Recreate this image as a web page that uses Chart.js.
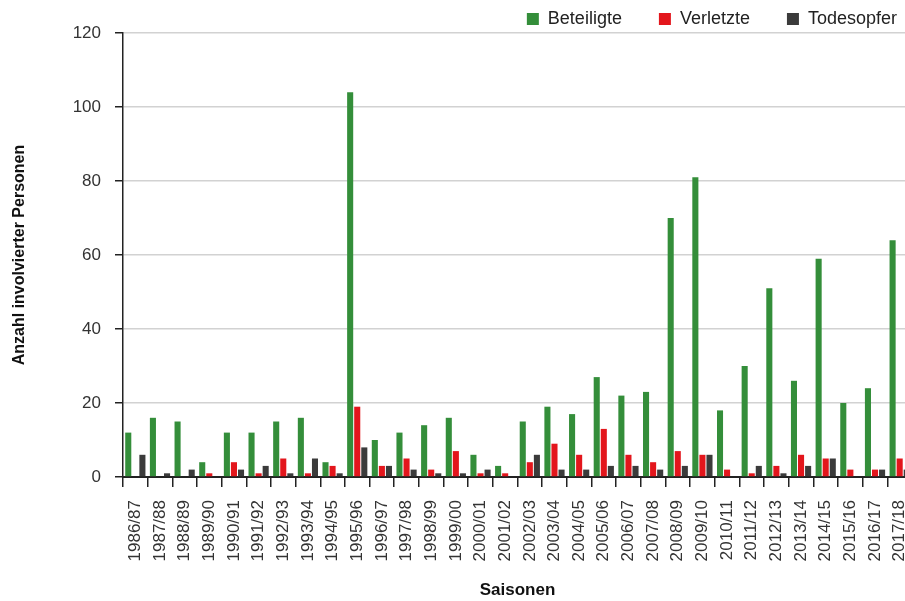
<!DOCTYPE html>
<html><head><meta charset="utf-8">
<script src="https://cdn.jsdelivr.net/npm/chart.js@4/dist/chart.umd.min.js"></script>
<style>html,body{margin:0;padding:0;overflow:hidden;background:#fff}canvas{display:block}</style>
</head><body>
<canvas id="c" width="912" height="601"></canvas>
<script>
const categories = ["1986/87","1987/88","1988/89","1989/90","1990/91","1991/92","1992/93","1993/94","1994/95","1995/96","1996/97","1997/98","1998/99","1999/00","2000/01","2001/02","2002/03","2003/04","2004/05","2005/06","2006/07","2007/08","2008/09","2009/10","2010/11","2011/12","2012/13","2013/14","2014/15","2015/16","2016/17","2017/18"];
const beteiligte = [12,16,15,4,12,12,15,16,4,104,10,12,14,16,6,3,15,19,17,27,22,23,70,81,18,30,51,26,59,20,24,64];
const verletzte = [0,0,0,1,4,1,5,1,3,19,3,5,2,7,1,1,4,9,6,13,6,4,7,6,2,1,3,6,5,2,2,5];
const todesopfer = [6,1,2,0,2,3,1,5,1,8,3,2,1,1,2,0,6,2,2,3,3,2,3,6,0,3,1,3,5,0,2,2];
const yTicks = [0,20,40,60,80,100,120];

const FONT = '"Liberation Sans", Arial, Helvetica, sans-serif';
const legendNudge = {
  id: 'legendNudge',
  afterLayout(chart) {
    const lg = chart.legend;
    if (!lg) return;
    lg.top -= 27;
    lg.left += 22; lg.right += 22;
  }
};

new Chart(document.getElementById('c'), {
  type: 'bar',
  data: {
    labels: categories,
    datasets: [
      {label: 'Beteiligte', data: beteiligte, backgroundColor: '#348e3a'},
      {label: 'Verletzte', data: verletzte, backgroundColor: '#e3161c'},
      {label: 'Todesopfer', data: todesopfer, backgroundColor: '#3b3b3b'}
    ]
  },
  options: {
    responsive: false,
    animation: false,
    datasets: {bar: {categoryPercentage: 0.86, barPercentage: 0.86}},
    layout: {padding: 0},
    plugins: {
      legend: {
        position: 'top', align: 'end', maxHeight: 33,
        labels: {boxWidth: 12, boxHeight: 12, padding: 37, color: '#222',
                 font: {family: FONT, size: 18, lineHeight: 1}}
      },
      tooltip: {enabled: false}
    },
    scales: {
      x: {
        grid: {display: true, drawOnChartArea: false, offset: true, tickLength: 10, tickColor: '#222', lineWidth: 1.5},
        border: {color: '#222', width: 2},
        ticks: {minRotation: 90, maxRotation: 90, padding: 13, color: '#333', font: {family: FONT, size: 17}},
        title: {display: true, text: 'Saisonen', color: '#111', font: {family: FONT, size: 17, weight: 'bold'}, padding: {top: 14, bottom: 0}},
        afterFit: s => { s.height = 124; s.paddingLeft = 0; s.paddingRight = 0; }
      },
      y: {
        min: 0, max: 120,
        afterBuildTicks: s => { s.ticks = yTicks.map(v => ({value: v})); },
        grid: {color: '#d2d2d2', lineWidth: 1.5, tickLength: 8, tickColor: '#222'},
        border: {color: '#222', width: 1.5},
        ticks: {padding: 14, color: '#333', font: {family: FONT, size: 17}},
        title: {display: true, text: 'Anzahl involvierter Personen', color: '#111', font: {family: FONT, size: 16, weight: 'bold'}, padding: {top: 10, bottom: 38}},
        afterFit: s => { s.width = 123; }
      }
    }
  },
  plugins: [legendNudge]
});
</script>
</body></html>
